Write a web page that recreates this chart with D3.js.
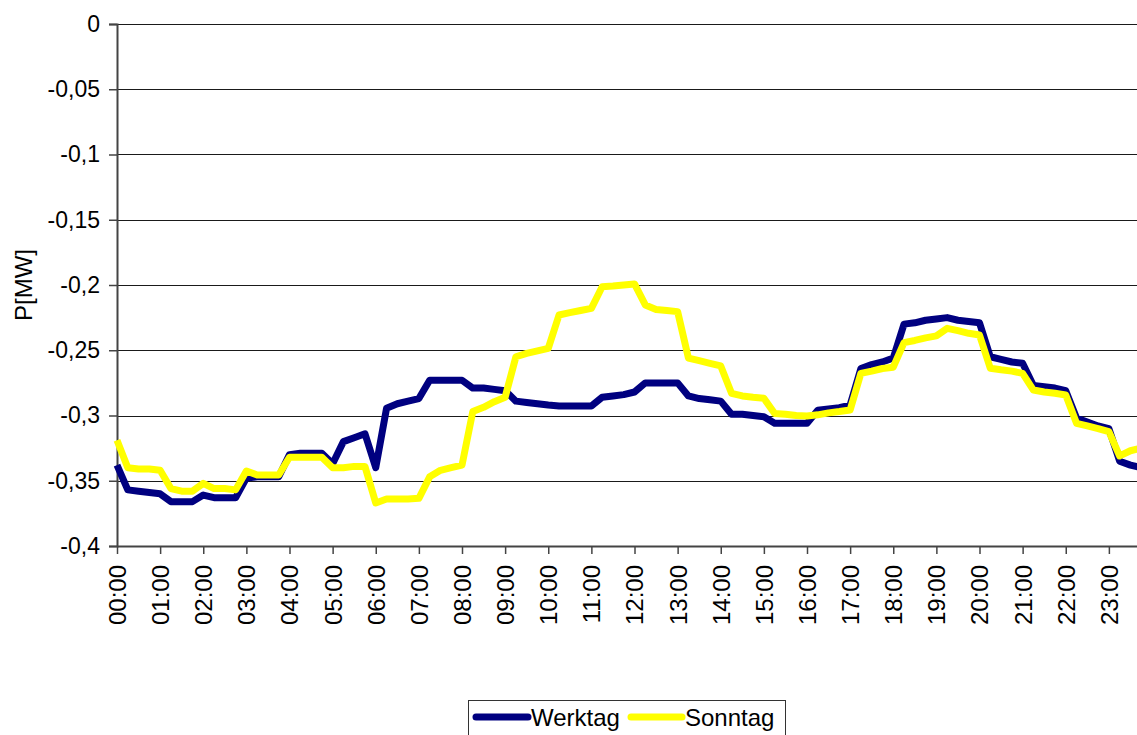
<!DOCTYPE html>
<html>
<head>
<meta charset="utf-8">
<script src="https://cdn.jsdelivr.net/npm/d3@7"></script>
<style>
  html, body { margin: 0; padding: 0; background: #fff; }
  svg { display: block; }
  text { font-family: "Liberation Sans", Arial, sans-serif; fill: #000; }
</style>
</head>
<body>
<svg id="chart" width="1137" height="735"></svg>
<script>
// 15-minute values, index 0 = 00:00
const werktag = [
  -0.338, -0.357, -0.358, -0.359, -0.360, -0.366, -0.366, -0.366,
  -0.361, -0.363, -0.363, -0.363, -0.348, -0.347, -0.347, -0.347,
  -0.330, -0.329, -0.329, -0.329, -0.337, -0.320, -0.317, -0.314,
  -0.340, -0.2945, -0.291, -0.289, -0.287, -0.273, -0.273, -0.273,
  -0.273, -0.279, -0.279, -0.280, -0.281, -0.289, -0.290, -0.291,
  -0.292, -0.2927, -0.2927, -0.2927, -0.2927, -0.286, -0.285, -0.284,
  -0.282, -0.275, -0.275, -0.275, -0.275, -0.285, -0.287, -0.288,
  -0.289, -0.299, -0.299, -0.300, -0.301, -0.306, -0.306, -0.306,
  -0.306, -0.296, -0.295, -0.294, -0.292, -0.264, -0.261, -0.259,
  -0.256, -0.230, -0.229, -0.227, -0.226, -0.225, -0.227, -0.228,
  -0.229, -0.255, -0.257, -0.259, -0.260, -0.277, -0.278, -0.279,
  -0.281, -0.302, -0.305, -0.308, -0.310, -0.335, -0.338, -0.340
];
const sonntag = [
  -0.319, -0.340, -0.341, -0.341, -0.342, -0.356, -0.358, -0.358,
  -0.352, -0.356, -0.356, -0.357, -0.3425, -0.3456, -0.3456, -0.3456,
  -0.332, -0.332, -0.332, -0.332, -0.340, -0.340, -0.339, -0.339,
  -0.367, -0.364, -0.364, -0.364, -0.3635, -0.347, -0.342, -0.340,
  -0.338, -0.297, -0.2937, -0.2894, -0.286, -0.255, -0.2524, -0.2505,
  -0.2486, -0.223, -0.2212, -0.2195, -0.2179, -0.2013, -0.2008, -0.2000,
  -0.1992, -0.2153, -0.2187, -0.2195, -0.2204, -0.256, -0.258, -0.260,
  -0.262, -0.283, -0.285, -0.286, -0.2868, -0.2985, -0.299, -0.300,
  -0.3004, -0.2995, -0.298, -0.297, -0.2958, -0.2677, -0.266, -0.264,
  -0.263, -0.2442, -0.2425, -0.2405, -0.239, -0.2332, -0.235, -0.237,
  -0.2383, -0.2638, -0.265, -0.266, -0.2677, -0.2805, -0.282, -0.283,
  -0.2843, -0.306, -0.308, -0.310, -0.3124, -0.331, -0.327, -0.325
];
const yTicks = [0, -0.05, -0.1, -0.15, -0.2, -0.25, -0.3, -0.35, -0.4];
const yTickLabels = ["0", "-0,05", "-0,1", "-0,15", "-0,2", "-0,25", "-0,3", "-0,35", "-0,4"];
const xTickLabels = ["00:00","01:00","02:00","03:00","04:00","05:00","06:00","07:00",
  "08:00","09:00","10:00","11:00","12:00","13:00","14:00","15:00",
  "16:00","17:00","18:00","19:00","20:00","21:00","22:00","23:00"];
const seriesNames = ["Werktag", "Sonntag"];
const seriesColors = ["#000080", "#FFFF00"];

const svg = d3.select("#chart");
const mLeft = 117, mTop = 24, mBottom = 546, mRight = 1152;

const x = d3.scaleLinear().domain([0, 96]).range([mLeft, mRight]);
const y = d3.scaleLinear().domain([-0.4, 0]).range([mBottom, mTop]);

// gridlines
svg.append("g").selectAll("line").data(yTicks.slice(0, -1)).join("line")
  .attr("x1", mLeft).attr("x2", 1137)
  .attr("y1", d => Math.round(y(d)) + 0.5).attr("y2", d => Math.round(y(d)) + 0.5)
  .attr("stroke", "#1a1a1a").attr("stroke-width", 1);

// y axis
const yAxis = d3.axisLeft(y).tickValues(yTicks)
  .tickFormat((d, i) => yTickLabels[i]).tickSize(8).tickPadding(9);
const gy = svg.append("g").attr("transform", `translate(${mLeft},0)`).call(yAxis);
gy.select(".domain").attr("stroke", "#444").attr("stroke-width", 2);
gy.selectAll(".tick line").attr("stroke", "#444").attr("stroke-width", 1.5);
gy.selectAll(".tick text").style("font-size", "23px").style("font-family", "Liberation Sans, Arial, sans-serif").attr("fill", "#000");

// x axis
const xTickVals = xTickLabels.map((d, i) => i * 4);
const xAxis = d3.axisBottom(x).tickValues(xTickVals)
  .tickFormat((d, i) => xTickLabels[i]).tickSize(8).tickSizeOuter(0);
const gx = svg.append("g").attr("transform", `translate(0,${mBottom})`).call(xAxis);
gx.select(".domain").attr("stroke", "#444").attr("stroke-width", 2);
gx.selectAll(".tick line").attr("stroke", "#444").attr("stroke-width", 1.5);
gx.selectAll(".tick text")
  .style("font-size", "24px").style("font-family", "Liberation Sans, Arial, sans-serif").attr("fill", "#000")
  .attr("transform", "rotate(-90)")
  .attr("x", -19).attr("y", 0).attr("dy", "0.35em")
  .attr("text-anchor", "end");

// y axis title
svg.append("text")
  .attr("transform", `translate(32,${(mTop + mBottom) / 2}) rotate(-90)`)
  .attr("text-anchor", "middle")
  .style("font-size", "24px")
  .text("P[MW]");

// lines
const line = d3.line().x((d, i) => x(i)).y(d => y(d));
[werktag, sonntag].forEach((s, k) => {
  svg.append("path").datum(s)
    .attr("d", line)
    .attr("fill", "none")
    .attr("stroke", seriesColors[k])
    .attr("stroke-width", 7)
    .attr("stroke-linejoin", "round");
});

// legend
const lg = svg.append("g");
lg.append("rect").attr("x", 468.5).attr("y", 700.5).attr("width", 317).attr("height", 45)
  .attr("fill", "#fff").attr("stroke", "#333").attr("stroke-width", 1);
const legendItems = [{x0: 476, x1: 528, tx: 531}, {x0: 631, x1: 682, tx: 685}];
legendItems.forEach((it, k) => {
  lg.append("line").attr("x1", it.x0).attr("x2", it.x1).attr("y1", 717).attr("y2", 717)
    .attr("stroke", seriesColors[k]).attr("stroke-width", 7).attr("stroke-linecap", "round");
  lg.append("text").attr("x", it.tx).attr("y", 717).attr("dy", "0.36em")
    .style("font-size", "24px").text(seriesNames[k]);
});
</script>
</body>
</html>
